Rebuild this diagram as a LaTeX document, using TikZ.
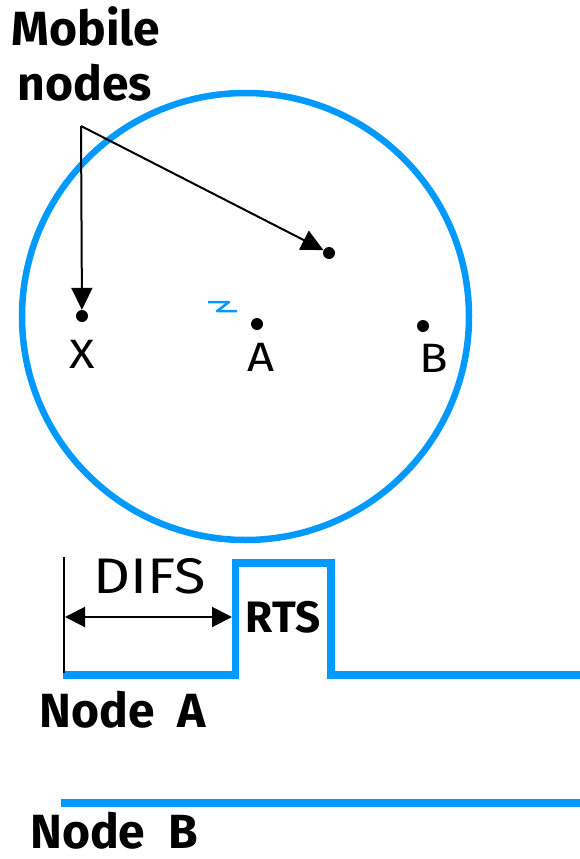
\documentclass[tikz,border=0pt]{standalone}
\usepackage{fontspec}
\setmainfont{Fira Sans}
\newfontfamily\widefont[FakeStretch=1.15]{Fira Sans}
\usetikzlibrary{arrows.meta}
\definecolor{wblue}{RGB}{0,153,255}
\tikzset{
  dotnode/.style={circle,fill=black,inner sep=0pt,minimum size=12pt},
  boldlabel/.style={anchor=base,inner sep=0pt,font=\fontsize{48}{54}\selectfont\bfseries},
  letterlabel/.style={anchor=base,inner sep=0pt,font=\widefont\fontsize{41}{46}\selectfont},
  pointer/.style={line width=2pt,-{Triangle[length=22pt,width=21pt]}},
  bluewire/.style={wblue,line width=7.5pt},
}
\begin{document}
\begin{tikzpicture}[x=1pt,y=-1pt]
\useasboundingbox (0,0) rectangle (580,859);
% range circle
\node[draw=wblue,line width=6.5pt,circle,minimum size=447pt,inner sep=0pt] (range) at (245.5,316.5) {};
% labels
\node[boldlabel] (mobile) at (86,46) {Mobile};
\node[boldlabel] (nodes) at (85,100) {nodes};
\coordinate (apex) at (81,126);
% dots
\node[dotnode] (dx) at (82,316) {};
\node[dotnode] (da) at (257,324) {};
\node[dotnode] (db) at (423,326) {};
\node[dotnode] (dm) at (329,253) {};
\node[letterlabel] (lx) at (82,368) {X};
\node[letterlabel] (la) at (261,371) {A};
\node[letterlabel] (lb) at (434,372) {B};
% pointers
\draw[pointer] (apex) -- (dx);
\draw[pointer] (apex) -- (dm);
% small blue z
\draw[wblue,line width=2.5pt,line join=round] (208,302) -- (229,302) -- (217,311) -- (237,311);
% timeline node A
\draw[bluewire,line join=miter] (63,675) -- (235.5,675) -- (235.5,563) -- (331,563) -- (331,675) -- (580,675);
\draw[line width=2.2pt] (64,557) -- (64,673);
\draw[line width=2pt,{Triangle[length=20pt,width=20pt]}-{Triangle[length=20pt,width=20pt]}] (65,617) -- (232,617);
\node[anchor=base,inner sep=0pt,font=\widefont\fontsize{50}{56}\selectfont] (difs) at (150,593) {DIFS};
\node[boldlabel,font=\fontsize{44}{50}\selectfont\bfseries] (rts) at (283,632) {RTS};
\node[boldlabel] (nodea) at (123,727) {Node\ \ A};
% timeline node B
\draw[bluewire] (61,803) -- (580,803);
\node[boldlabel] (nodeb) at (114,848) {Node\ \ B};
\end{tikzpicture}
\end{document}
